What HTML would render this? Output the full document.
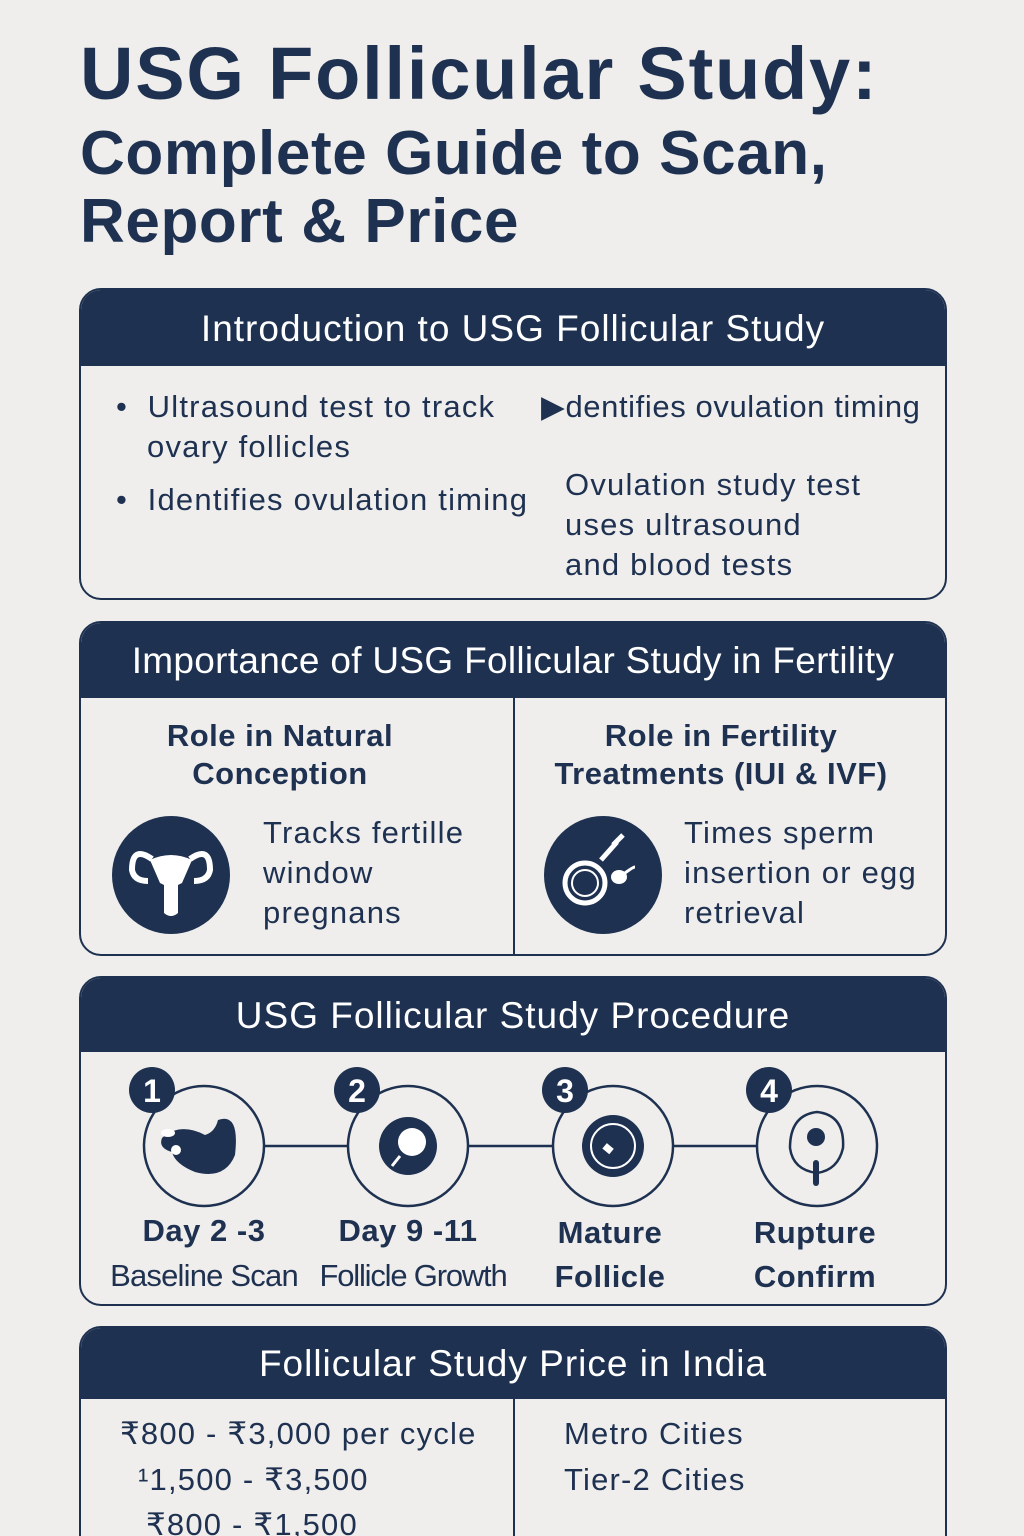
<!DOCTYPE html>
<html style="overflow:hidden;height:1536px"><head><meta charset="utf-8"><style>
html,body{margin:0;width:1024px;height:1536px;overflow:hidden}
body{background:#efeeec;position:relative;font-family:"Liberation Sans",sans-serif;color:#1e3150}
.a{position:absolute;white-space:nowrap}
.card{position:absolute;left:79px;width:864px;border:2px solid #1e3150;border-radius:22px;overflow:hidden}
.hd{background:#1e3150;color:#fff;text-align:center;font-size:37px;letter-spacing:1px;position:absolute;left:0;right:0;top:0}
.t{font-size:31px;line-height:40px;letter-spacing:1.2px}
.b{font-weight:bold}
</style></head><body>
<div class="a b" style="left:80px;top:32px;font-size:74px;line-height:84px;letter-spacing:1.8px">USG Follicular Study:</div>
<div class="a b" style="left:80px;top:120px;font-size:62px;line-height:68px;letter-spacing:0.6px">Complete Guide to Scan,<br>Report &amp; Price</div>

<div class="card" style="top:288px;height:308px">
 <div class="hd" style="height:76px;line-height:78px">Introduction to USG Follicular Study</div>
</div>
<div class="a t" style="left:116px;top:387px">•&nbsp; Ultrasound test to track</div>
<div class="a t" style="left:147px;top:427px">ovary follicles</div>
<div class="a t" style="left:116px;top:480px">•&nbsp; Identifies ovulation timing</div>
<div class="a t" style="left:541px;top:387px;letter-spacing:0.6px">▶dentifies ovulation timing</div>
<div class="a t" style="left:565px;top:465px">Ovulation study test<br>uses ultrasound<br>and blood tests</div>

<div class="card" style="top:621px;height:331px">
 <div class="hd" style="height:75px;line-height:76px;letter-spacing:0.3px">Importance of USG Follicular Study in Fertility</div>
 <div style="position:absolute;left:432px;top:75px;width:2px;height:260px;background:#1e3150"></div>
</div>
<div class="a t b" style="left:80px;width:400px;text-align:center;top:717px;line-height:38px;letter-spacing:0.5px">Role in Natural<br>Conception</div>
<div class="a t b" style="left:513px;width:416px;text-align:center;top:717px;line-height:38px;letter-spacing:0.5px">Role in Fertility<br>Treatments (IUI &amp; IVF)</div>
<svg class="a" style="left:110px;top:815px" width="122" height="120" viewBox="0 0 122 120"><circle cx="61" cy="60" r="59" fill="#1e3150"/><path d="M40 45 Q61 35 82 45 L72 68 L68 70 L68 98 Q61 104 54 98 L54 70 L50 68 Z" fill="#fff"/><path d="M42 44 Q22 30 22 55 Q24 66 38 66" fill="none" stroke="#fff" stroke-width="6"/><path d="M80 44 Q100 30 100 55 Q98 66 84 66" fill="none" stroke="#fff" stroke-width="6"/></svg>
<div class="a t" style="left:263px;top:813px">Tracks fertille<br>window<br>pregnans</div>
<svg class="a" style="left:543px;top:815px" width="120" height="120" viewBox="0 0 120 120"><circle cx="60" cy="60" r="59" fill="#1e3150"/><circle cx="42" cy="68" r="20" fill="none" stroke="#fff" stroke-width="5"/><circle cx="42" cy="68" r="13" fill="none" stroke="#fff" stroke-width="2"/><ellipse cx="76" cy="62" rx="8" ry="7" fill="#fff"/><path d="M82 58 Q90 52 92 52" stroke="#fff" stroke-width="3" fill="none"/><path d="M58 45 L74 27 M70 30 L80 20" stroke="#fff" stroke-width="5"/></svg>
<div class="a t" style="left:684px;top:813px">Times sperm<br>insertion or egg<br>retrieval</div>

<div class="card" style="top:976px;height:326px">
 <div class="hd" style="height:74px;line-height:76px">USG Follicular Study Procedure</div>
</div>
<svg class="a" style="left:100px;top:1060px" width="820" height="150" viewBox="0 0 820 150">
<g stroke="#1e3150" stroke-width="2.5" fill="none">
<line x1="165" y1="86" x2="247" y2="86"/><line x1="369" y1="86" x2="452" y2="86"/><line x1="574" y1="86" x2="656" y2="86"/>
<circle cx="104" cy="86" r="60"/><circle cx="308" cy="86" r="60"/><circle cx="513" cy="86" r="60"/><circle cx="717" cy="86" r="60"/>
</g>
<g fill="#1e3150">
<path d="M62 78 Q80 62 105 75 Q115 72 118 60 Q140 52 135 95 Q125 120 95 112 Q75 104 72 92 Q58 88 62 78Z"/>
<circle cx="308" cy="86" r="29"/><circle cx="513" cy="86" r="31"/>
<circle cx="52" cy="30" r="23"/><circle cx="257" cy="30" r="23"/><circle cx="465" cy="30" r="23"/><circle cx="669" cy="30" r="23"/>
<circle cx="716" cy="77" r="9"/><rect x="713" y="100" width="6" height="26" rx="3"/>
</g>
<ellipse cx="68" cy="73" rx="7" ry="4" fill="#fff"/><circle cx="76" cy="90" r="5" fill="#fff"/>
<circle cx="312" cy="82" r="14" fill="#fff"/><line x1="300" y1="96" x2="292" y2="106" stroke="#fff" stroke-width="3"/>
<circle cx="513" cy="86" r="22" fill="none" stroke="#fff" stroke-width="2"/><rect x="504" y="85" width="9" height="7" fill="#fff" transform="rotate(40 508 88)"/>
<path d="M717 52 Q745 55 743 88 Q738 110 717 113 Q693 110 690 88 Q690 55 717 52Z" fill="none" stroke="#1e3150" stroke-width="2.5"/>
<g fill="#fff" font-family="Liberation Sans" font-weight="bold" font-size="32" text-anchor="middle"><text x="52" y="42">1</text><text x="257" y="42">2</text><text x="465" y="42">3</text><text x="669" y="42">4</text></g>
</svg>
<div class="a t b" style="left:104px;width:200px;text-align:center;top:1211px;letter-spacing:0.5px">Day 2 -3</div>
<div class="a t" style="left:104px;width:200px;text-align:center;top:1256px;letter-spacing:-0.8px">Baseline Scan</div>
<div class="a t b" style="left:308px;width:200px;text-align:center;top:1211px;letter-spacing:0.5px">Day 9 -11</div>
<div class="a t" style="left:308px;width:210px;text-align:center;top:1256px;letter-spacing:-1.2px">Follicle Growth</div>
<div class="a t b" style="left:510px;width:200px;text-align:center;top:1211px;line-height:44px;letter-spacing:0.5px">Mature<br>Follicle</div>
<div class="a t b" style="left:715px;width:200px;text-align:center;top:1211px;line-height:44px;letter-spacing:0.5px">Rupture<br>Confirm</div>

<div class="card" style="top:1326px;height:240px">
 <div class="hd" style="height:71px;line-height:72px">Follicular Study Price in India</div>
 <div style="position:absolute;left:432px;top:71px;width:2px;height:200px;background:#1e3150"></div>
</div>
<div class="a t" style="left:120px;top:1414px">₹800 - ₹3,000 per cycle</div>
<div class="a t" style="left:138px;top:1460px">¹1,500 - ₹3,500</div>
<div class="a t" style="left:146px;top:1505px">₹800 - ₹1,500</div>
<div class="a t" style="left:564px;top:1414px">Metro Cities</div>
<div class="a t" style="left:564px;top:1460px">Tier-2 Cities</div>
</body></html>
